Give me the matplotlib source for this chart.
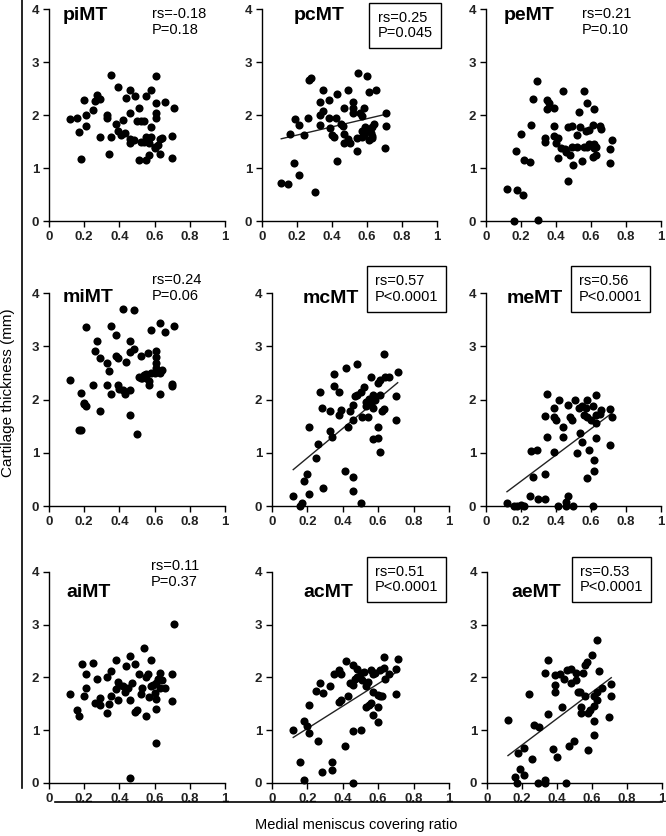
import numpy as np
import matplotlib.pyplot as plt
from matplotlib.lines import Line2D

plt.rcParams['font.family'] = ['Liberation Sans', 'DejaVu Sans']

# medial meniscus covering ratio (x) and cartilage thickness (y), read per panel
piMT_x = [0.12, 0.16, 0.17, 0.18, 0.2, 0.21, 0.21, 0.25, 0.27, 0.26, 0.29, 0.29, 0.33, 0.33, 0.34, 0.35,
          0.35, 0.39, 0.38, 0.39, 0.41, 0.42, 0.44, 0.43, 0.46, 0.46, 0.46, 0.46, 0.48, 0.49, 0.51, 0.5,
          0.52, 0.54, 0.51, 0.55, 0.55, 0.55, 0.57, 0.58, 0.58, 0.58, 0.54, 0.57, 0.6, 0.61, 0.61, 0.61,
          0.61, 0.62, 0.63, 0.64, 0.63, 0.66, 0.7, 0.7, 0.71, 0.6, 0.52, 0.56]
piMT_y = [1.92, 1.94, 1.68, 1.17, 2.29, 2.01, 1.79, 2.09, 2.38, 2.26, 2.3, 1.59, 2.01, 1.94, 1.26, 2.76,
          1.59, 2.53, 1.84, 1.7, 1.62, 1.91, 2.33, 1.67, 2.03, 2.47, 1.54, 1.47, 1.53, 2.35, 2.14, 1.89,
          1.89, 1.89, 1.15, 1.15, 2.36, 1.59, 1.47, 1.59, 1.77, 2.47, 1.5, 1.25, 1.37, 2.74, 2.22, 2.03,
          1.94, 1.43, 1.54, 1.57, 1.26, 2.25, 1.61, 1.19, 2.14, 1.4, 1.5, 1.52]

pcMT_x = [0.11, 0.15, 0.16, 0.18, 0.19, 0.21, 0.21, 0.24, 0.26, 0.27, 0.28, 0.3, 0.33, 0.33, 0.33, 0.35,
          0.35, 0.38, 0.38, 0.39, 0.4, 0.41, 0.42, 0.43, 0.43, 0.45, 0.46, 0.47, 0.47, 0.47, 0.49, 0.49,
          0.5, 0.52, 0.52, 0.52, 0.54, 0.54, 0.55, 0.56, 0.57, 0.57, 0.58, 0.58, 0.59, 0.6, 0.61, 0.61,
          0.62, 0.63, 0.63, 0.63, 0.64, 0.65, 0.7, 0.71, 0.71, 0.57, 0.6]
pcMT_y = [0.71, 0.69, 1.65, 1.1, 1.92, 1.81, 0.87, 1.62, 1.94, 2.67, 2.7, 0.54, 2.24, 2.0, 1.82, 2.47,
          2.08, 2.28, 1.94, 1.75, 1.62, 1.59, 1.94, 2.4, 1.13, 1.84, 1.79, 2.13, 1.65, 1.48, 2.47, 1.54,
          1.47, 2.13, 2.25, 2.04, 1.56, 1.33, 2.8, 2.03, 1.69, 1.98, 2.14, 1.62, 1.77, 2.74, 1.53, 2.44,
          1.67, 1.6, 1.57, 1.78, 1.84, 2.47, 1.37, 1.79, 2.03, 1.59, 1.72]

peMT_x = [0.12, 0.16, 0.17, 0.18, 0.2, 0.21, 0.22, 0.25, 0.26, 0.27, 0.29, 0.3, 0.34, 0.34, 0.35, 0.35,
          0.36, 0.39, 0.39, 0.39, 0.4, 0.41, 0.41, 0.43, 0.44, 0.45, 0.46, 0.47, 0.47, 0.48, 0.49, 0.49,
          0.5, 0.52, 0.52, 0.53, 0.54, 0.55, 0.56, 0.56, 0.57, 0.58, 0.58, 0.59, 0.59, 0.61, 0.61, 0.62,
          0.62, 0.62, 0.63, 0.63, 0.65, 0.66, 0.71, 0.71, 0.72]
peMT_y = [0.6, 0.0, 1.32, 0.58, 1.64, 0.49, 1.16, 1.12, 1.82, 2.3, 2.64, 0.02, 1.57, 1.5, 2.11, 2.28,
          2.22, 2.13, 1.79, 1.6, 1.47, 1.56, 1.18, 1.38, 2.45, 1.36, 1.31, 0.76, 1.78, 1.25, 1.8, 1.4,
          1.06, 1.4, 1.62, 2.06, 1.78, 1.13, 1.4, 2.45, 1.69, 2.22, 1.4, 1.72, 1.45, 1.21, 1.81, 2.11,
          1.45, 1.37, 1.25, 1.4, 1.79, 1.74, 1.1, 1.36, 1.52]

miMT_x = [0.12, 0.17, 0.18, 0.18, 0.2, 0.2, 0.21, 0.21, 0.25, 0.26, 0.27, 0.29, 0.29, 0.33, 0.33, 0.34,
          0.35, 0.35, 0.38, 0.38, 0.39, 0.39, 0.4, 0.42, 0.42, 0.43, 0.44, 0.46, 0.46, 0.46, 0.46, 0.48,
          0.48, 0.5, 0.51, 0.52, 0.52, 0.53, 0.54, 0.55, 0.55, 0.56, 0.57, 0.57, 0.58, 0.58, 0.6, 0.61,
          0.61, 0.61, 0.61, 0.62, 0.63, 0.63, 0.64, 0.66, 0.7, 0.7, 0.71, 0.63]
miMT_y = [2.36, 1.43, 1.43, 2.13, 1.94, 1.91, 1.87, 3.36, 2.28, 2.92, 3.1, 2.78, 1.79, 2.68, 2.28, 2.53,
          3.39, 2.1, 3.22, 2.81, 2.78, 2.28, 2.19, 3.7, 2.17, 2.11, 2.71, 1.71, 3.09, 2.9, 2.18, 2.95,
          3.69, 1.35, 2.42, 2.82, 2.4, 2.4, 2.46, 2.4, 2.48, 2.87, 2.34, 2.28, 2.5, 3.3, 2.5, 2.92,
          2.8, 2.68, 2.59, 2.53, 2.11, 3.44, 2.56, 3.26, 2.3, 2.26, 3.39, 2.5]

mcMT_x = [0.12, 0.16, 0.17, 0.18, 0.2, 0.21, 0.21, 0.25, 0.26, 0.27, 0.28, 0.29, 0.33, 0.33, 0.34, 0.35,
          0.35, 0.38, 0.38, 0.39, 0.41, 0.42, 0.43, 0.44, 0.46, 0.46, 0.46, 0.46, 0.47, 0.48, 0.48, 0.5,
          0.5, 0.51, 0.52, 0.53, 0.53, 0.54, 0.55, 0.56, 0.56, 0.57, 0.57, 0.57, 0.58, 0.6, 0.6, 0.6,
          0.61, 0.61, 0.61, 0.62, 0.63, 0.63, 0.64, 0.66, 0.7, 0.7, 0.71]
mcMT_y = [0.18, 0.0, 0.05, 0.47, 0.6, 0.23, 1.48, 0.91, 1.17, 2.15, 1.85, 0.33, 1.79, 1.4, 1.3, 2.48,
          2.26, 2.15, 1.71, 1.81, 0.66, 2.6, 1.49, 1.79, 0.54, 0.29, 1.89, 1.62, 2.07, 2.66, 2.09, 0.05,
          2.15, 1.68, 2.24, 1.96, 1.87, 1.68, 2.01, 2.43, 1.92, 1.25, 2.09, 1.84, 1.99, 2.31, 1.49, 1.27,
          1.02, 2.09, 2.37, 1.79, 2.85, 1.82, 2.43, 2.43, 1.62, 2.07, 2.51]

meMT_x = [0.12, 0.16, 0.18, 0.2, 0.22, 0.25, 0.26, 0.27, 0.29, 0.3, 0.34, 0.34, 0.34, 0.35, 0.35, 0.39,
          0.39, 0.39, 0.4, 0.41, 0.42, 0.44, 0.44, 0.46, 0.46, 0.47, 0.47, 0.48, 0.49, 0.5, 0.51, 0.52,
          0.53, 0.54, 0.55, 0.55, 0.56, 0.57, 0.58, 0.58, 0.58, 0.59, 0.6, 0.61, 0.61, 0.62, 0.62, 0.63,
          0.63, 0.63, 0.63, 0.65, 0.66, 0.71, 0.71, 0.72]
meMT_y = [0.05, 0.0, 0.0, 0.02, 0.0, 0.19, 1.04, 0.54, 1.05, 0.14, 0.14, 1.7, 0.6, 1.3, 2.1, 1.84,
          1.68, 1.02, 1.62, 0.0, 2.0, 1.48, 1.3, 0.0, 0.08, 0.18, 1.9, 1.68, 1.61, 0.0, 2.0, 0.99,
          1.84, 1.37, 1.87, 1.21, 1.71, 1.85, 2.0, 0.52, 1.68, 1.05, 1.62, 1.87, 0.0, 0.87, 0.65, 1.71,
          2.09, 1.55, 1.27, 1.73, 1.81, 1.15, 1.82, 1.68]

aiMT_x = [0.12, 0.16, 0.17, 0.19, 0.2, 0.21, 0.21, 0.25, 0.26, 0.27, 0.29, 0.29, 0.33, 0.33, 0.34, 0.35,
          0.35, 0.38, 0.38, 0.39, 0.39, 0.4, 0.42, 0.43, 0.44, 0.45, 0.46, 0.46, 0.46, 0.47, 0.49, 0.49,
          0.5, 0.51, 0.52, 0.53, 0.54, 0.55, 0.55, 0.56, 0.57, 0.58, 0.58, 0.59, 0.6, 0.61, 0.61, 0.61,
          0.61, 0.62, 0.63, 0.63, 0.64, 0.66, 0.7, 0.7, 0.71]
aiMT_y = [1.69, 1.39, 1.27, 2.25, 1.64, 2.06, 1.81, 2.28, 1.51, 1.97, 1.48, 1.61, 2.0, 1.32, 1.49, 2.13,
          1.65, 2.34, 1.78, 1.57, 1.92, 1.86, 1.83, 1.73, 2.22, 1.8, 0.09, 2.4, 1.57, 1.89, 2.26, 1.34,
          1.39, 2.07, 1.69, 1.8, 2.55, 2.0, 1.27, 2.07, 1.63, 1.83, 2.33, 1.86, 1.7, 1.4, 0.76, 1.59,
          1.89, 1.97, 1.8, 2.08, 1.95, 1.8, 2.06, 1.56, 3.01]

acMT_x = [0.12, 0.16, 0.18, 0.18, 0.2, 0.21, 0.21, 0.25, 0.26, 0.27, 0.28, 0.29, 0.33, 0.34, 0.34, 0.35,
          0.38, 0.38, 0.39, 0.39, 0.41, 0.42, 0.43, 0.44, 0.46, 0.46, 0.46, 0.46, 0.47, 0.48, 0.48, 0.5,
          0.5, 0.51, 0.52, 0.53, 0.53, 0.54, 0.55, 0.56, 0.56, 0.57, 0.57, 0.57, 0.58, 0.6, 0.6, 0.6,
          0.61, 0.61, 0.62, 0.63, 0.63, 0.64, 0.66, 0.7, 0.7, 0.71]
acMT_y = [1.01, 0.39, 0.06, 1.18, 1.08, 0.94, 1.48, 1.75, 0.79, 1.9, 0.2, 1.7, 1.83, 0.39, 0.25, 2.06,
          1.53, 2.15, 2.06, 1.58, 0.71, 2.32, 1.64, 1.9, 0.0, 0.99, 2.24, 1.86, 1.97, 2.17, 2.01, 1.01,
          2.08, 1.95, 2.11, 1.45, 1.83, 1.92, 1.47, 2.15, 1.51, 2.06, 1.29, 1.73, 2.08, 1.67, 1.45, 1.15,
          1.64, 2.15, 1.64, 2.39, 2.18, 1.98, 2.07, 1.68, 2.17, 2.36]

aeMT_x = [0.12, 0.16, 0.17, 0.18, 0.19, 0.21, 0.21, 0.24, 0.26, 0.27, 0.29, 0.3, 0.33, 0.33, 0.33, 0.35,
          0.35, 0.38, 0.39, 0.39, 0.39, 0.4, 0.42, 0.43, 0.44, 0.45, 0.46, 0.47, 0.48, 0.48, 0.5, 0.51,
          0.51, 0.52, 0.53, 0.54, 0.54, 0.55, 0.56, 0.56, 0.57, 0.58, 0.58, 0.59, 0.6, 0.61, 0.61, 0.61,
          0.61, 0.63, 0.63, 0.63, 0.64, 0.66, 0.7, 0.71, 0.71]
aeMT_y = [1.2, 0.11, 0.0, 0.57, 0.26, 0.15, 0.66, 1.69, 0.46, 1.09, 0.0, 1.07, 0.06, 0.0, 2.08, 1.31,
          2.34, 0.64, 1.85, 2.05, 1.73, 0.49, 2.06, 1.45, 1.97, 0.0, 2.15, 0.71, 2.17, 1.89, 0.79, 2.08,
          1.95, 1.73, 1.73, 1.45, 1.32, 2.09, 1.65, 2.24, 2.3, 1.32, 0.63, 1.39, 2.43, 0.91, 1.17, 1.46,
          1.64, 1.73, 2.72, 1.57, 2.12, 1.8, 1.26, 1.88, 1.65]

names = ['piMT', 'pcMT', 'peMT', 'miMT', 'mcMT', 'meMT', 'aiMT', 'acMT', 'aeMT']
xs = [piMT_x, pcMT_x, peMT_x, miMT_x, mcMT_x, meMT_x, aiMT_x, acMT_x, aeMT_x]
ys = [piMT_y, pcMT_y, peMT_y, miMT_y, mcMT_y, meMT_y, aiMT_y, acMT_y, aeMT_y]
rs_vals = ['-0.18', '0.25', '0.21', '0.24', '0.57', '0.56', '0.11', '0.51', '0.53']
p_vals = ['P=0.18', 'P=0.045', 'P=0.10', 'P=0.06', 'P<0.0001', 'P<0.0001',
          'P=0.37', 'P<0.0001', 'P<0.0001']
significant = [False, True, False, False, True, True, False, True, True]

# axes rectangles in figure fractions [left, bottom, width, height]
rects = [
    [0.0736, 0.7356, 0.2643, 0.2536], [0.3934, 0.7356, 0.2628, 0.2536], [0.7297, 0.7356, 0.2628, 0.2536],
    [0.0736, 0.3947, 0.2643, 0.2548], [0.4084, 0.3947, 0.2658, 0.2548], [0.7297, 0.3947, 0.2628, 0.2548],
    [0.0736, 0.0634, 0.2643, 0.2524], [0.4084, 0.0634, 0.2658, 0.2524], [0.7312, 0.0634, 0.2628, 0.2524],
]
# label / stats text positions in data units
label_pos = [(0.08, 3.88), (0.18, 3.88), (0.1, 3.88),
             (0.08, 3.92), (0.175, 3.9), (0.12, 3.9),
             (0.1, 3.62), (0.175, 3.62), (0.137, 3.62)]
stat_pos = [(0.585, 4.03), (0.66, 3.97), (0.55, 4.03),
            (0.585, 4.37), (0.58, 4.35), (0.53, 4.35),
            (0.58, 4.24), (0.58, 4.14), (0.53, 4.14)]

fig = plt.figure(figsize=(6.66, 8.36), dpi=100)

for i in range(9):
    ax = fig.add_axes(rects[i])
    x = np.array(xs[i])
    y = np.array(ys[i])
    ax.scatter(x, y, s=34, color='black', zorder=3, clip_on=False, linewidths=0)
    if significant[i]:
        k, b = np.polyfit(x, y, 1)
        lx = np.array([x.min(), x.max()])
        ax.plot(lx, k * lx + b, color='#222222', lw=1.0)
    ax.set_xlim(0, 1)
    ax.set_ylim(0, 4)
    ax.set_xticks([0, 0.2, 0.4, 0.6, 0.8, 1])
    ax.set_xticklabels(['0', '0.2', '0.4', '0.6', '0.8', '1'])
    ax.set_yticks([0, 1, 2, 3, 4])
    ax.spines['top'].set_visible(False)
    ax.spines['right'].set_visible(False)
    ax.spines['left'].set_linewidth(1.0)
    ax.spines['bottom'].set_linewidth(1.0)
    ax.tick_params(direction='out', length=4, width=1.0, labelsize=9.5, pad=3)
    for lab in ax.get_xticklabels() + ax.get_yticklabels():
        lab.set_fontweight('bold')
        lab.set_color('#222222')
    ax.text(label_pos[i][0], label_pos[i][1], names[i], fontsize=14, fontweight='bold',
            va='center', ha='left', clip_on=False)
    txt = 'rs=' + rs_vals[i] + '\n' + p_vals[i]
    if significant[i]:
        ax.text(stat_pos[i][0], stat_pos[i][1], txt, fontsize=10.5, va='top', ha='left',
                linespacing=1.15, clip_on=False,
                bbox=dict(boxstyle='square,pad=0.55', fc='white', ec='black', lw=1.0))
    else:
        ax.text(stat_pos[i][0], stat_pos[i][1], txt, fontsize=10.5, va='top', ha='left',
                linespacing=1.15, clip_on=False)

# outer bracket lines and shared labels
fig.add_artist(Line2D([0.033, 0.033], [1.0, 0.057], color='black', lw=1.2))
fig.add_artist(Line2D([0.083, 0.994], [0.041, 0.041], color='black', lw=1.2))
fig.text(0.012, 0.53, 'Cartilage thickness (mm)', rotation=90, fontsize=11,
         va='center', ha='center')
fig.text(0.535, 0.013, 'Medial meniscus covering ratio', fontsize=10.5,
         va='center', ha='center')

fig.savefig('out.png', dpi=100)
